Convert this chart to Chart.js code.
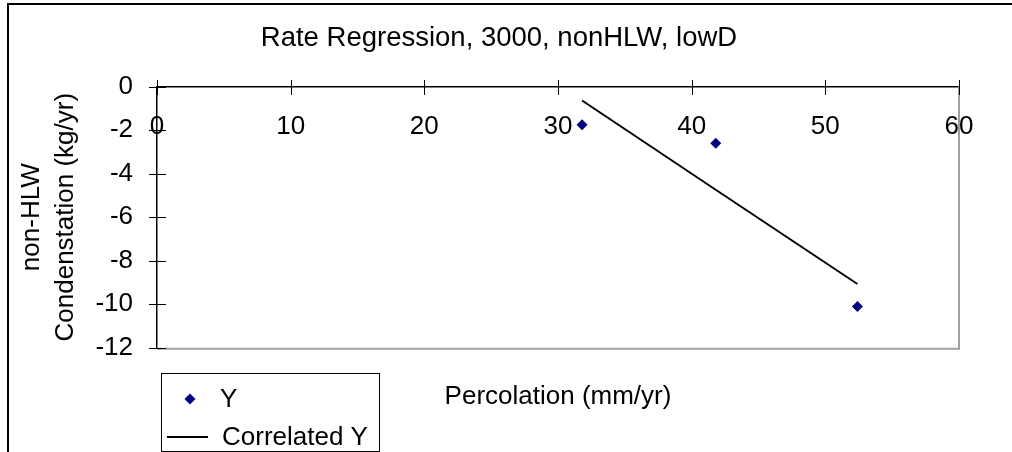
<!DOCTYPE html>
<html>
<head>
<meta charset="utf-8">
<script src="https://cdn.jsdelivr.net/npm/chart.js@4.4.0/dist/chart.umd.min.js"></script>
<style>
  html, body { margin: 0; padding: 0; background: #fff; }
</style>
</head>
<body>
<canvas id="regressionChart" width="1012" height="452"></canvas>
<script>
const chartTitle = "Rate Regression, 3000, nonHLW, lowD";
const xAxisTitle = "Percolation (mm/yr)";
const yAxisTitle = ["non-HLW", "Condenstation (kg/yr)"];
const seriesNames = ["Y", "Correlated Y"];

// values
const percolation = [31.8, 41.8, 52.4];
const condensation = [-1.75, -2.6, -10.1];
const correlatedY = [-0.64, -4.74, -9.07];

const xTickValues = [0, 10, 20, 30, 40, 50, 60];
const yTickValues = [0, -2, -4, -6, -8, -10, -12];

const FONT = '"Liberation Sans", Arial, sans-serif';
Chart.defaults.font.family = FONT;
Chart.defaults.font.size = 26;
Chart.defaults.color = "#000";

// Excel-like extras: outer frame, grey plot border, crossing ticks, legend box
const excelLook = {
  id: "excelLook",
  beforeDraw(chart) {
    const ctx = chart.ctx;
    ctx.save();
    ctx.strokeStyle = "#000";
    ctx.lineWidth = 2;
    ctx.beginPath();
    ctx.moveTo(8, 452);
    ctx.lineTo(8, 4);
    ctx.lineTo(1012, 4);
    ctx.stroke();
    ctx.restore();
  },
  beforeDatasetsDraw(chart) {
    const { ctx, chartArea } = chart;
    ctx.save();
    ctx.strokeStyle = "#a0a0a0";
    ctx.lineWidth = 2;
    ctx.beginPath();
    ctx.moveTo(chartArea.left, chartArea.bottom + 1);
    ctx.lineTo(chartArea.right, chartArea.bottom + 1);
    ctx.lineTo(chartArea.right, chartArea.top);
    ctx.stroke();
    ctx.restore();
  },
  afterDraw(chart) {
    const ctx = chart.ctx;
    const xs = chart.scales.x;
    const ys = chart.scales.y;
    const y0 = Math.round(ys.getPixelForValue(0));
    const x0 = Math.round(xs.getPixelForValue(0));
    ctx.save();
    ctx.strokeStyle = "#000";
    ctx.lineWidth = 1;
    ctx.beginPath();
    xs.ticks.forEach((t) => {
      const px = Math.round(xs.getPixelForValue(t.value)) + 0.5;
      ctx.moveTo(px, y0 - 7);
      ctx.lineTo(px, y0 + 8);
    });
    ys.ticks.forEach((t) => {
      const py = Math.round(ys.getPixelForValue(t.value)) + 0.5;
      ctx.moveTo(x0 - 8, py);
      ctx.lineTo(x0 + 9, py);
    });
    ctx.stroke();

    // legend
    ctx.lineWidth = 1;
    ctx.strokeRect(161.5, 373.5, 218, 78);
    ctx.font = "26px " + FONT;
    ctx.textBaseline = "middle";
    ctx.textAlign = "left";
    ctx.fillStyle = "#000";
    chart.data.datasets.forEach((ds, i) => {
      const cy = 399 + i * 38;
      if (ds.showLine) {
        ctx.strokeStyle = ds.borderColor;
        ctx.lineWidth = ds.borderWidth;
        ctx.beginPath();
        ctx.moveTo(167, cy);
        ctx.lineTo(208, cy);
        ctx.stroke();
        ctx.fillStyle = "#000";
        ctx.fillText(ds.label, 222, cy + 1);
      } else {
        const r = ds.pointRadius;
        ctx.fillStyle = ds.backgroundColor;
        ctx.beginPath();
        ctx.moveTo(190, cy - r);
        ctx.lineTo(190 + r, cy);
        ctx.lineTo(190, cy + r);
        ctx.lineTo(190 - r, cy);
        ctx.closePath();
        ctx.fill();
        ctx.fillStyle = "#000";
        ctx.fillText(ds.label, 220, cy + 1);
      }
    });
    ctx.restore();
  },
};

const ctx = document.getElementById("regressionChart").getContext("2d");

const regressionChart = new Chart(ctx, {
  type: "scatter",
  data: {
    datasets: [
      {
        label: seriesNames[0],
        data: percolation.map((x, i) => ({ x: x, y: condensation[i] })),
        pointStyle: "rectRot",
        pointRadius: 5.5,
        backgroundColor: "#000080",
        borderColor: "#000080",
        borderWidth: 0,
        showLine: false,
      },
      {
        label: seriesNames[1],
        data: percolation.map((x, i) => ({ x: x, y: correlatedY[i] })),
        showLine: true,
        pointRadius: 0,
        borderColor: "#000000",
        borderWidth: 2,
        fill: false,
      },
    ],
  },
  options: {
    responsive: false,
    animation: false,
    layout: { padding: { left: 0, right: 14, top: 0, bottom: 40 } },
    plugins: {
      legend: { display: false },
      tooltip: { enabled: false },
      title: {
        display: true,
        text: chartTitle,
        color: "#000",
        font: { size: 27.5, weight: "normal" },
        padding: { top: 22, bottom: 31.6 },
      },
    },
    scales: {
      x: {
        type: "linear",
        position: { y: 0 },
        min: Math.min(...xTickValues),
        max: Math.max(...xTickValues),
        ticks: { stepSize: xTickValues[1] - xTickValues[0], padding: 25, color: "#000" },
        grid: { display: false, drawTicks: false },
        border: { display: true, color: "#000", width: 1.5 },
        afterFit: (s) => { s.height = 0; },
      },
      x2: {
        type: "linear",
        position: "bottom",
        min: Math.min(...xTickValues),
        max: Math.max(...xTickValues),
        ticks: { display: false },
        grid: { display: false, drawTicks: false },
        border: { display: false },
        title: {
          display: true,
          text: xAxisTitle,
          color: "#000",
          padding: { top: 33, bottom: 0 },
        },
      },
      y: {
        type: "linear",
        position: "left",
        min: Math.min(...yTickValues),
        max: Math.max(...yTickValues),
        ticks: { stepSize: yTickValues[0] - yTickValues[1], padding: 24, color: "#000" },
        grid: { display: false, drawTicks: false },
        border: { display: true, color: "#000", width: 1.5 },
        title: {
          display: true,
          text: yAxisTitle,
          color: "#000",
          font: { size: 26, lineHeight: 1.3 },
          padding: { top: 15, bottom: 0 },
        },
        afterFit: (s) => { s.width = 157; },
      },
      // empty right-hand box so the title centres over the whole frame
      y2: {
        type: "linear",
        position: "right",
        min: Math.min(...yTickValues),
        max: Math.max(...yTickValues),
        ticks: { display: false },
        grid: { display: false, drawTicks: false },
        border: { display: false },
        afterFit: (s) => { s.width = 39; },
      },
    },
  },
  plugins: [excelLook],
});
</script>
</body>
</html>
